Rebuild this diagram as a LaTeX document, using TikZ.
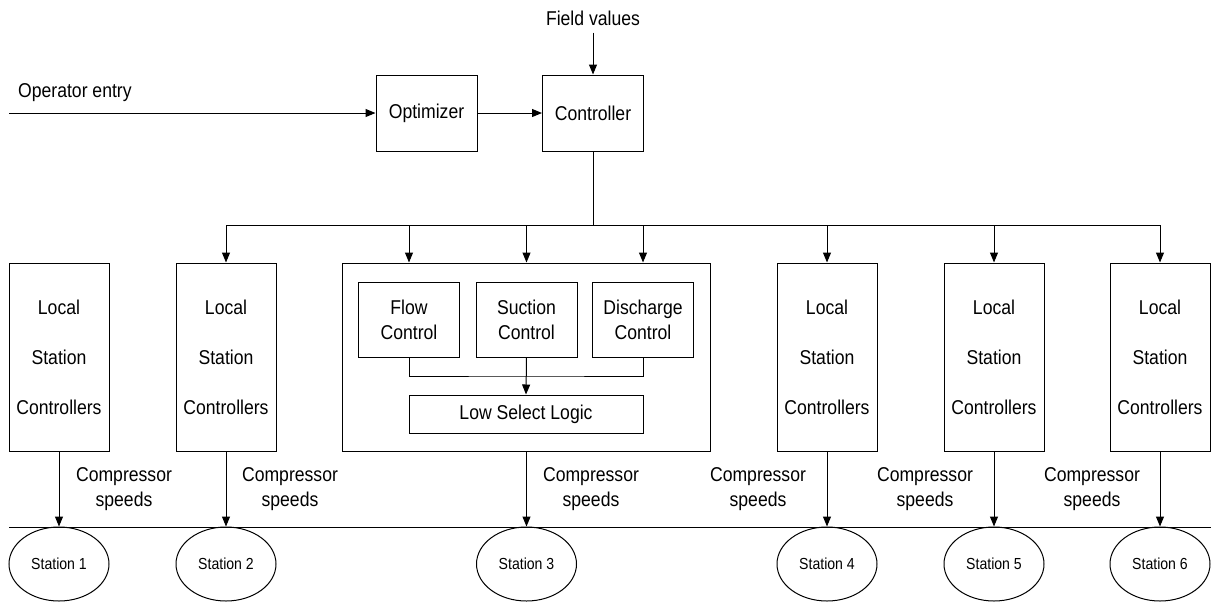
\documentclass[tikz,border=0pt]{standalone}
\usepackage{fontspec}
\setmainfont{Liberation Sans}[FakeStretch=0.88]
\usetikzlibrary{arrows.meta,shapes}

\begin{document}
\begin{tikzpicture}[x=0.5pt,y=-0.5pt,>={Triangle[length=5pt,width=4pt]},line width=0.5pt,
  blk/.style={draw,inner sep=0pt,align=center},
  top/.style={blk,minimum width=50.5pt,minimum height=38pt},
  lsc/.style={blk,minimum width=50pt,minimum height=94pt,font=\fontsize{10pt}{25pt}\selectfont},
  ctl/.style={blk,minimum width=50.5pt,minimum height=37.5pt,font=\fontsize{10pt}{12.5pt}\selectfont},
  stn/.style={draw,ellipse,inner sep=0pt,minimum width=50pt,minimum height=37pt,font=\fontsize{8pt}{10pt}\selectfont},
  spd/.style={align=center,font=\fontsize{10pt}{12.5pt}\selectfont}]
\useasboundingbox(0,0)rectangle(1211,601);
\node(fv)at(593,18){Field values};
\node[anchor=west](op)at(11,93){Operator entry};
\coordinate(in)at(9,113);
\node[top](opt)at(426.5,113){Optimizer};
\node[top](ctrl)at(593,113){Controller};
\draw[->](in)--(opt);
\draw[->](opt)--(ctrl);
\draw[->](fv.south)--(ctrl.north);
% local stations
\node[lsc](lsc1)at(59,357){Local\\Station\\Controllers};
\node[lsc](lsc2)at(226,357){Local\\Station\\Controllers};
\node[lsc](lsc4)at(827,357){Local\\Station\\Controllers};
\node[lsc](lsc5)at(994,357){Local\\Station\\Controllers};
\node[lsc](lsc6)at(1160,357){Local\\Station\\Controllers};
% station 3 block
\node[blk,minimum width=184pt,minimum height=94pt](big)at(526,357){};
\node[ctl](flow)at(409,319.5){Flow\\Control};
\node[ctl](suct)at(526.5,319.5){Suction\\Control};
\node[ctl](disch)at(643,319.5){Discharge\\Control};
\node[blk,minimum width=117pt,minimum height=19pt](low)at(526,414){Low Select Logic};
\coordinate(mrg)at(526.5,376);
\draw(flow.south)|-(mrg)-|(disch.south);
\draw[->](suct.south)--(low.north);
% bus
\coordinate(bus)at(593,225);
\draw(ctrl.south)--(bus);
\draw(bus-|lsc2)--(bus-|lsc6);
\foreach \n in {lsc2,flow,suct,disch,lsc4,lsc5,lsc6}
  \draw[->](bus-|\n)--(\n|-big.north);
% stations
\draw(9,527)--(1211,527);
\node[stn](st1)at(59,564){Station 1};
\node[stn](st2)at(226,564){Station 2};
\node[stn](st3)at(526.5,564){Station 3};
\node[stn](st4)at(827,564){Station 4};
\node[stn](st5)at(994,564){Station 5};
\node[stn](st6)at(1160,564){Station 6};
\draw[->](lsc1)--(st1);
\draw[->](lsc2)--(st2);
\draw[->](big.south-|st3)--(st3);
\draw[->](lsc4)--(st4);
\draw[->](lsc5)--(st5);
\draw[->](lsc6)--(st6);
\node[spd](cs1)at(124,489){Compressor\\speeds};
\node[spd](cs2)at(290,489){Compressor\\speeds};
\node[spd](cs3)at(591,489){Compressor\\speeds};
\node[spd](cs4)at(758,489){Compressor\\speeds};
\node[spd](cs5)at(925,489){Compressor\\speeds};
\node[spd](cs6)at(1092,489){Compressor\\speeds};
\end{tikzpicture}
\end{document}
